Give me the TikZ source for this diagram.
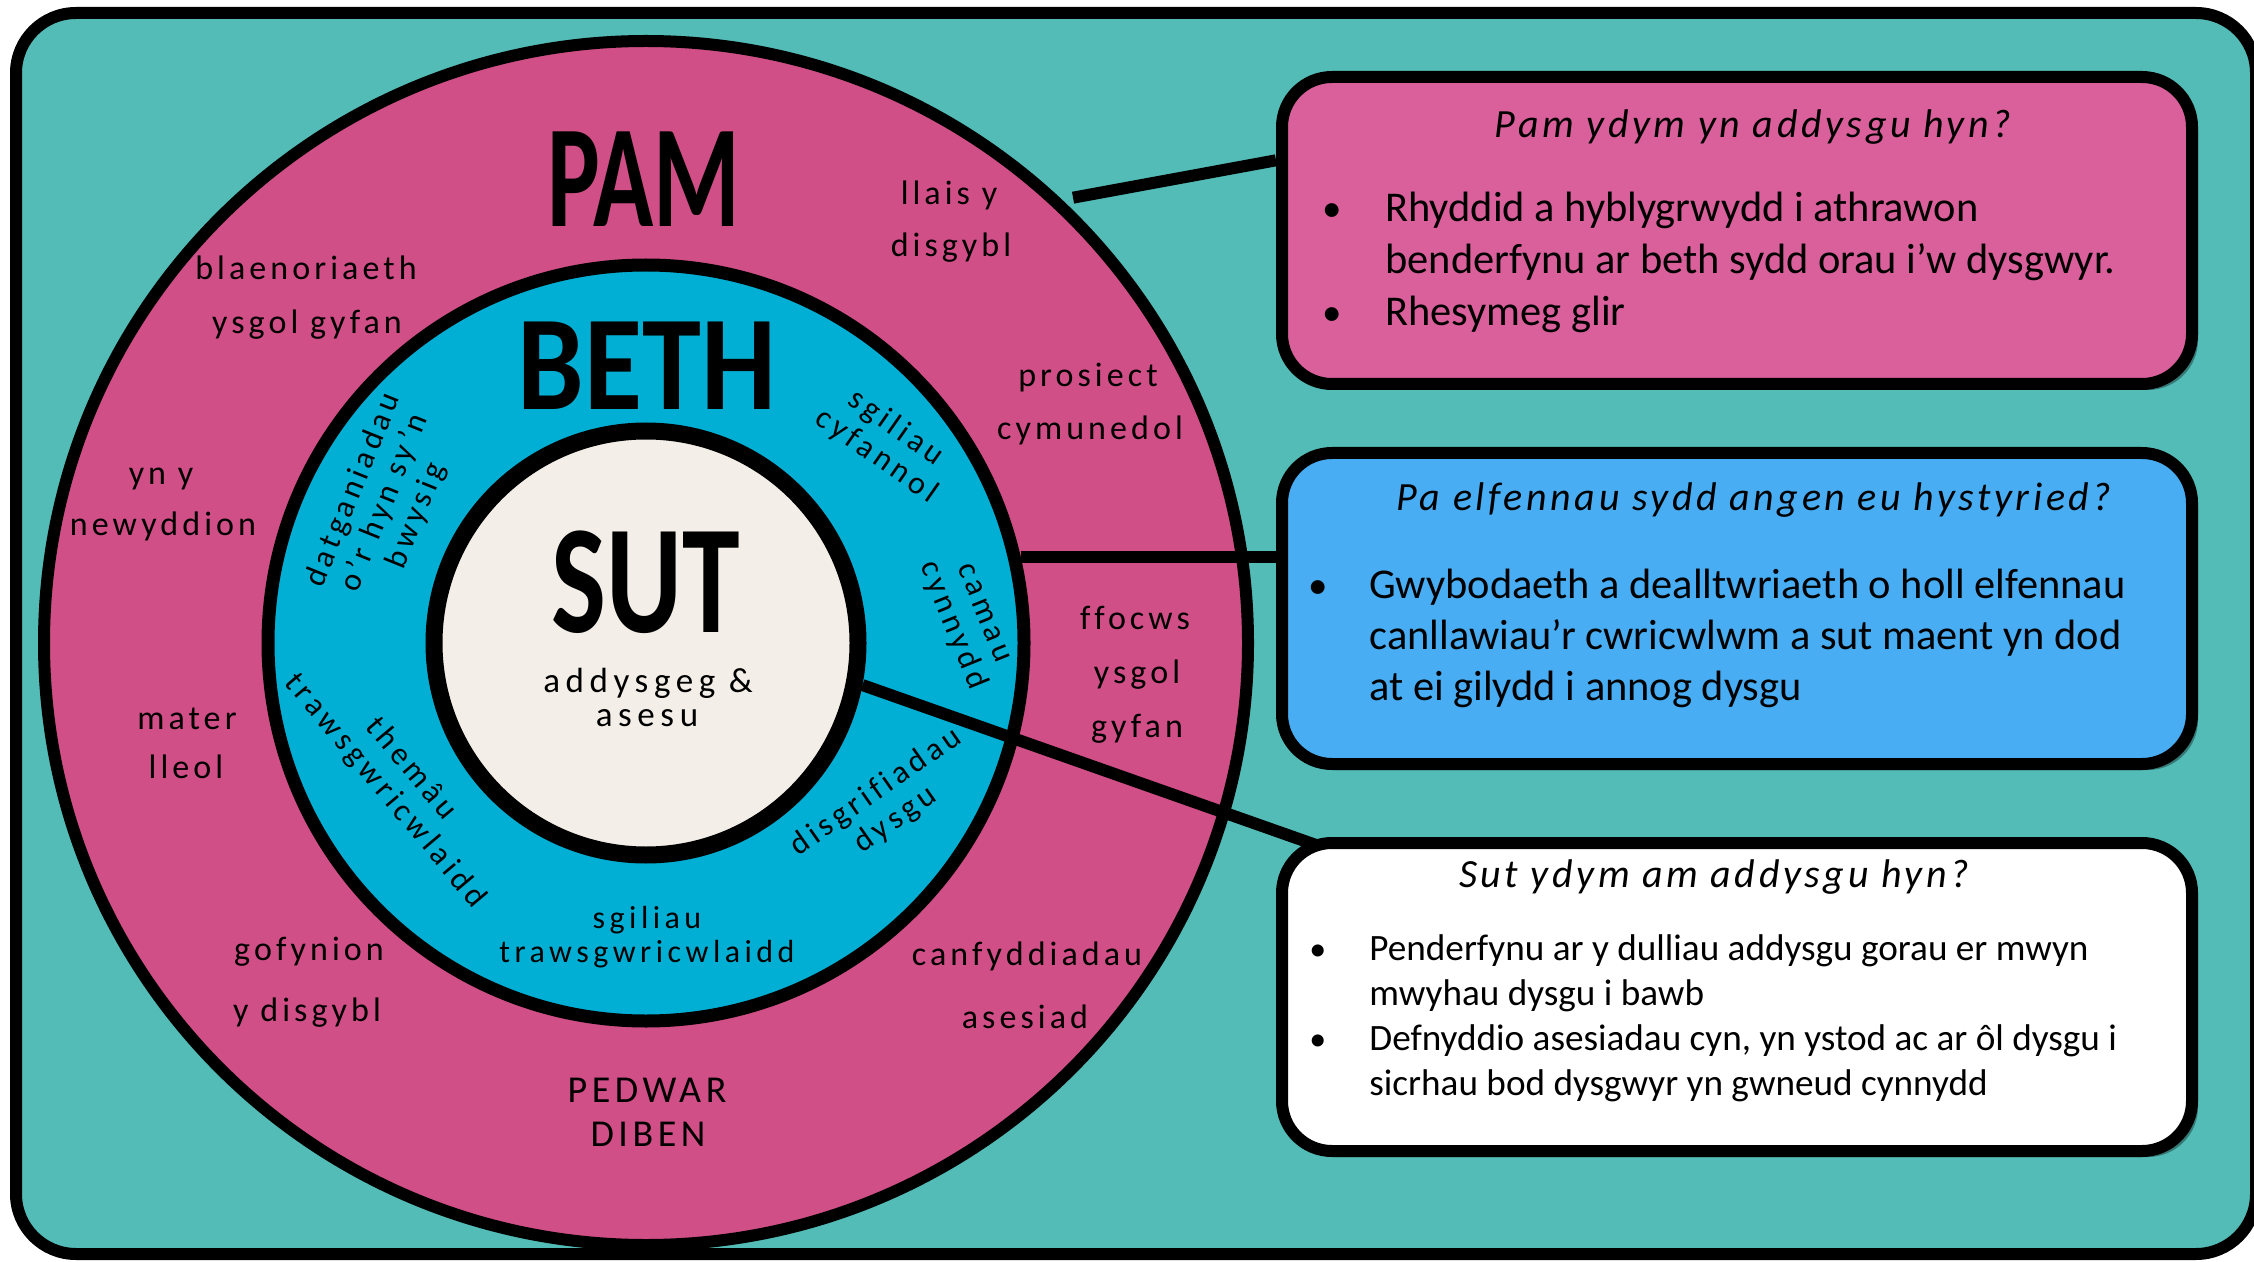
\documentclass[tikz,border=0pt]{standalone}
\usepackage{fontspec}
\usepackage{graphicx}
\setmainfont{Carlito}
\newfontfamily\labfont{Carlito}[LetterSpace=12, Ligatures=NoCommon]
\newfontfamily\bluefont{Carlito}[LetterSpace=14, Ligatures=NoCommon]
\newfontfamily\ctrfont{Carlito}[LetterSpace=16, Ligatures=NoCommon]
\newfontfamily\titlefont{Carlito}[LetterSpace=9]
\usetikzlibrary{shadows,calc}
\definecolor{bgteal}{HTML}{53BCB7}
\definecolor{ringpink}{HTML}{D04F87}
\definecolor{boxpink}{HTML}{D9609B}
\definecolor{ringblue}{HTML}{00AFD3}
\definecolor{boxblue}{HTML}{48ADF2}
\definecolor{cream}{HTML}{F3EEE7}
\pgfdeclarelayer{front}
\pgfsetlayers{main,front}
\tikzset{
  ring/.style={circle, draw=black, inner sep=0pt},
  conn/.style={draw=black, line width=6pt},
  infobox/.style={draw=black, line width=6pt, rounded corners=25pt, minimum width=455pt, inner sep=0pt,
    drop shadow={shadow xshift=3pt, shadow yshift=-3pt, opacity=0.35, fill=black}},
  boxtitle/.style={font=\titlefont\itshape\fontsize{20}{24}\selectfont, anchor=base, inner sep=0pt},
  bodyA/.style={font=\fontsize{21.2}{26}\selectfont, anchor=base west, inner sep=0pt},
  bodyB/.style={font=\fontsize{18.6}{22}\selectfont, anchor=base west, inner sep=0pt},
  bul/.style={anchor=base west, inner sep=0pt},
  lab/.style={font=\labfont\fontsize{17}{20}\selectfont, anchor=base, inner sep=0pt},
  caplab/.style={font=\labfont\fontsize{19}{20}\selectfont, anchor=base, inner sep=0pt},
  bluelab/.style={font=\bluefont\fontsize{16}{17}\selectfont, align=center, inner sep=0pt},
  ctrlab/.style={font=\ctrfont\fontsize{17.5}{20}\selectfont, anchor=base, inner sep=0pt},
  big/.style={font=\bfseries, inner sep=0pt}
}
\begin{document}
\begin{tikzpicture}[x=0.5pt, y=-0.5pt]
\useasboundingbox (0,0) rectangle (2254,1262);
\fill[white] (0,0) rectangle (2254,1262);
\draw[line width=6pt, fill=bgteal, rounded corners=30pt] (16,13) rectangle (2256,1254);

% rings
\node[ring, line width=6pt, fill=ringpink, minimum size=602pt] (outer) at (646,643) {};
\node[ring, line width=6.5pt, fill=ringblue, minimum size=378pt] (blue) at (646,643) {};
\node[ring, line width=8.5pt, fill=cream, minimum size=212pt] (cream) at (646,643) {};

% boxes
\begin{pgfonlayer}{front}
\node[infobox, fill=boxpink, minimum height=153.5pt] (box1) at (1737,230.5) {};
\node[infobox, fill=boxblue, minimum height=155.5pt] (box2) at (1737,608.5) {};
\node[infobox, fill=white, minimum height=154pt] (box3) at (1737,997) {};

\node[boxtitle] (t1) at (1753,138) {Pam ydym yn addysgu hyn?};
\node[bul, font=\fontsize{19.5}{26}\selectfont] (b11) at (1322,222) {•};
\node[bodyA] (l11) at (1385,222) {Rhyddid a hyblygrwydd i athrawon};
\node[bodyA] (l12) at (1385,274) {benderfynu ar beth sydd orau i’w dysgwyr.};
\node[bul, font=\fontsize{19.5}{26}\selectfont] (b12) at (1322,326) {•};
\node[bodyA] (l13) at (1385,326) {Rhesymeg glir};

\node[boxtitle] (t2) at (1754,510) {Pa elfennau sydd angen eu hystyried?};
\node[bul, font=\fontsize{19.5}{26}\selectfont] (b21) at (1308,598) {•};
\node[bodyA] (l21) at (1369,598) {Gwybodaeth a dealltwriaeth o holl elfennau};
\node[bodyA] (l22) at (1369,649) {canllawiau’r cwricwlwm a sut maent yn dod};
\node[bodyA] (l23) at (1369,700) {at ei gilydd i annog dysgu};

\node[boxtitle] (t3) at (1714,887) {Sut ydym am addysgu hyn?};
\node[bul, font=\fontsize{17}{22}\selectfont] (b31) at (1309,960) {•};
\node[bodyB] (l31) at (1369,960) {Penderfynu ar y dulliau addysgu gorau er mwyn};
\node[bodyB] (l32) at (1369,1005) {mwyhau dysgu i bawb};
\node[bul, font=\fontsize{17}{22}\selectfont] (b32) at (1309,1050) {•};
\node[bodyB] (l33) at (1369,1050) {Defnyddio asesiadau cyn, yn ystod ac ar ôl dysgu i};
\node[bodyB] (l34) at (1369,1095) {sicrhau bod dysgwyr yn gwneud cynnydd};
\end{pgfonlayer}

% connectors
\draw[conn] ($(outer.center)+(-46.2:617)$) -- ($(box1.north west)!0.28!(box1.south west)$);
\draw[conn] (blue.13) -- (blue.13 -| box2.west);
\draw[conn] (cream.-11.5) -- ($(box3.north west)+(40,8)$);

% big labels
\node[big, font=\bfseries\fontsize{73}{73}\selectfont] (pam) at (644,179) {\scalebox{0.68}[1]{PAM}};
\node[big, font=\bfseries\fontsize{67.5}{68}\selectfont] (beth) at (647,366) {\scalebox{0.88}[1]{BETH}};
\node[big, font=\bfseries\fontsize{77.5}{78}\selectfont] (sut) at (646,582) {\scalebox{0.75}[1]{SUT}};
\node[ctrlab] (c1) at (648,692) {addysgeg \&};
\node[ctrlab] (c2) at (647,726) {asesu};

% pink ring labels
\node[lab] (p1) at (949,205) {llais y};
\node[lab] (p2) at (951,257) {disgybl};
\node[lab] (p3) at (306,280) {blaenoriaeth};
\node[lab] (p4) at (307,334) {ysgol gyfan};
\node[lab] (p5) at (1088,387) {prosiect};
\node[lab] (p6) at (1090,440) {cymunedol};
\node[lab] (p7) at (161,484) {yn y};
\node[lab] (p8) at (163,535) {newyddion};
\node[lab] (p9) at (1135,629) {ffocws};
\node[lab] (p10) at (1137,683) {ysgol};
\node[lab] (p11) at (1137,737) {gyfan};
\node[lab] (p12) at (187,729) {mater};
\node[lab] (p13) at (186,778) {lleol};
\node[lab] (p14) at (309,960) {gofynion};
\node[lab] (p15) at (307,1021) {y disgybl};
\node[lab] (p16) at (1027,965) {canfyddiadau};
\node[lab] (p17) at (1025,1028) {asesiad};
\node[caplab] (p18) at (647,1102) {PEDWAR};
\node[caplab] (p19) at (648,1146) {DIBEN};

% blue ring labels
\node[bluelab, rotate=68] (q1) at (385,503) {datganiadau\\o’r hyn sy’n\\bwysig};
\node[bluelab, rotate=-35] (q2) at (886,442) {sgiliau\\cyfannol};
\node[bluelab, rotate=-68] (q3) at (966,620) {camau\\cynnydd};
\node[bluelab, rotate=35] (q4) at (886,806) {disgrifiadau\\dysgu};
\node[bluelab, rotate=-50] (q5) at (398,780) {themâu\\trawsgwricwlaidd};
\node[bluelab] (q6) at (647,937) {sgiliau\\trawsgwricwlaidd};
\end{tikzpicture}
\end{document}
